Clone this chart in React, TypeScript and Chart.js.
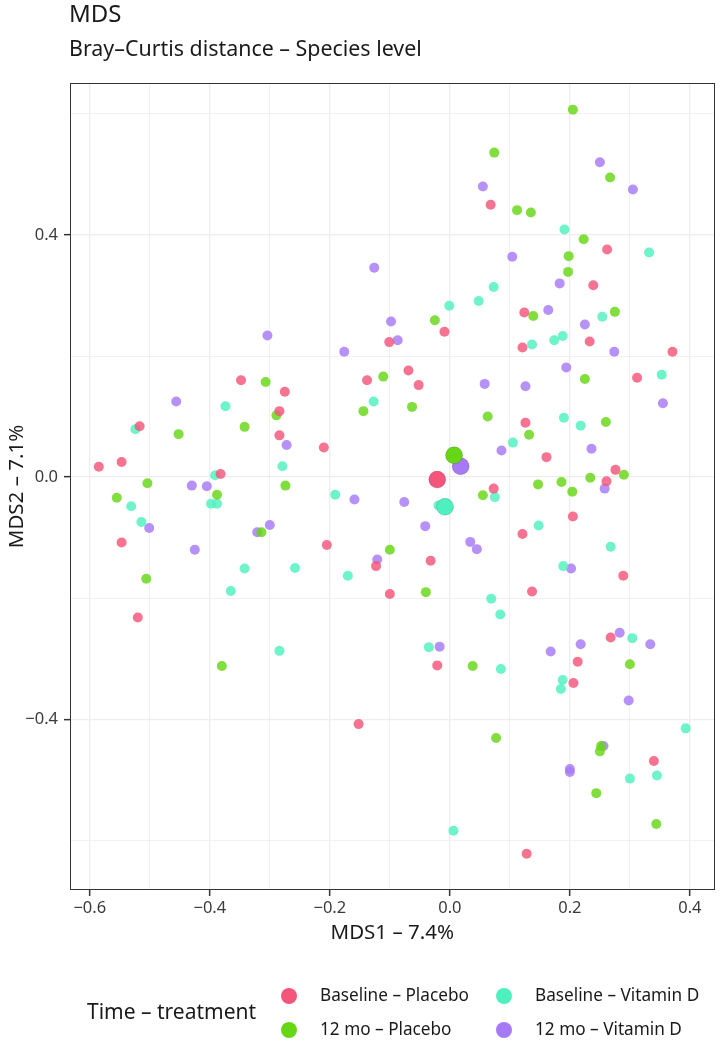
import React, { useEffect, useRef } from 'react';
import { Chart, registerables } from 'chart.js';

Chart.register(...registerables);

const FONT = '"Noto Sans"';

const TITLE = 'MDS';
const SUBTITLE = 'Bray–Curtis distance – Species level';
const X_TITLE = 'MDS1 – 7.4%';
const Y_TITLE = 'MDS2 – 7.1%';
const LEGEND_TITLE = 'Time – treatment';

const groups = ['Baseline – Placebo', '12 mo – Placebo', 'Baseline – Vitamin D', '12 mo – Vitamin D'];
const colors = ['#F4557A', '#66D714', '#4FF0BF', '#A679F5'];

const basePlaceboX = [0.068, -0.009, -0.101, 0.262, 0.239, 0.124, 0.121, 0.233, 0.371, -0.348, -0.275, -0.284, -0.517, -0.284, -0.547, -0.585, -0.382, -0.547, -0.52, -0.138, -0.069, -0.052, -0.21, 0.073, -0.205, -0.123, -0.032, -0.1, 0.312, 0.126, 0.161, 0.276, 0.261, 0.205, 0.121, 0.289, 0.137, -0.021, -0.152, 0.268, 0.213, 0.206, 0.34, 0.128];
const basePlaceboY = [0.45, 0.24, 0.223, 0.376, 0.317, 0.272, 0.214, 0.224, 0.207, 0.16, 0.141, 0.109, 0.084, 0.069, 0.025, 0.017, 0.005, -0.108, -0.232, 0.16, 0.176, 0.152, 0.049, -0.019, -0.112, -0.147, -0.138, -0.193, 0.164, 0.09, 0.033, 0.012, -0.007, -0.065, -0.094, -0.163, -0.189, -0.311, -0.408, -0.265, -0.305, -0.34, -0.469, -0.622];

const mo12PlaceboX = [0.074, 0.205, 0.267, 0.112, 0.135, 0.223, 0.198, 0.197, -0.025, 0.139, 0.275, -0.307, -0.289, -0.452, -0.342, -0.504, -0.274, -0.555, -0.388, -0.314, -0.506, -0.38, -0.111, -0.144, -0.063, 0.063, 0.055, -0.1, -0.04, 0.225, 0.132, 0.26, 0.29, 0.234, 0.147, 0.186, 0.204, 0.038, 0.077, 0.3, 0.252, 0.25, 0.244, 0.344];
const mo12PlaceboY = [0.536, 0.607, 0.495, 0.441, 0.437, 0.393, 0.365, 0.339, 0.259, 0.266, 0.273, 0.157, 0.102, 0.071, 0.083, -0.01, -0.014, -0.034, -0.029, -0.091, -0.168, -0.312, 0.166, 0.109, 0.116, 0.1, -0.03, -0.12, -0.19, 0.162, 0.07, 0.091, 0.004, -0.001, -0.012, -0.008, -0.024, -0.312, -0.431, -0.309, -0.444, -0.453, -0.522, -0.573];

const baseVitDX = [-0.001, 0.048, 0.073, 0.191, 0.332, 0.254, 0.174, 0.188, 0.137, -0.374, -0.524, -0.279, -0.391, -0.398, -0.388, -0.531, -0.514, -0.342, -0.365, -0.284, -0.127, -0.191, -0.019, 0.075, -0.258, -0.17, 0.069, 0.084, 0.353, 0.19, 0.218, 0.105, 0.148, 0.268, 0.189, -0.035, 0.085, 0.006, 0.304, 0.188, 0.185, 0.393, 0.3, 0.345];
const baseVitDY = [0.283, 0.291, 0.314, 0.409, 0.371, 0.265, 0.226, 0.233, 0.219, 0.117, 0.079, 0.018, 0.003, -0.044, -0.044, -0.048, -0.074, -0.151, -0.188, -0.287, 0.125, -0.029, -0.047, -0.033, -0.15, -0.163, -0.201, -0.227, 0.169, 0.098, 0.085, 0.057, -0.08, -0.115, -0.147, -0.281, -0.317, -0.584, -0.266, -0.335, -0.35, -0.415, -0.498, -0.493];

const mo12VitDX = [0.055, 0.25, 0.305, 0.104, 0.183, 0.164, 0.225, 0.274, -0.126, -0.098, -0.087, -0.176, -0.304, -0.456, -0.272, -0.43, -0.405, -0.501, -0.3, -0.321, -0.425, 0.058, 0.086, -0.159, -0.076, -0.041, 0.034, 0.045, -0.121, 0.194, 0.126, 0.355, 0.236, 0.258, 0.202, -0.017, 0.168, 0.218, 0.283, 0.334, 0.298, 0.256, 0.2, 0.2];
const mo12VitDY = [0.48, 0.52, 0.475, 0.364, 0.32, 0.276, 0.252, 0.207, 0.346, 0.257, 0.226, 0.207, 0.234, 0.125, 0.053, -0.014, -0.015, -0.084, -0.079, -0.091, -0.12, 0.154, 0.044, -0.037, -0.041, -0.081, -0.107, -0.119, -0.136, 0.181, 0.15, 0.122, 0.047, -0.019, -0.151, -0.28, -0.288, -0.276, -0.257, -0.276, -0.369, -0.444, -0.482, -0.487];

// group centroids (same order as groups)
const centroidX = [-0.021, 0.007, -0.008, 0.018];
const centroidY = [-0.004, 0.036, -0.049, 0.018];

const seriesX = [basePlaceboX, mo12PlaceboX, baseVitDX, mo12VitDX];
const seriesY = [basePlaceboY, mo12PlaceboY, baseVitDY, mo12VitDY];

const X_MIN = -0.633;
const X_MAX = 0.441;
const Y_MIN = -0.682;
const Y_MAX = 0.651;

function withAlpha(hex: string, a: number) {
  const n = parseInt(hex.slice(1), 16);
  return `rgba(${(n >> 16) & 255},${(n >> 8) & 255},${n & 255},${a})`;
}

function fmt(v: number) {
  const s = Math.abs(v).toFixed(1);
  return v < -1e-9 ? '\u2212' + s : s;
}

const TEXT = '#1a1a1a';
const AXIS_TEXT = '#3a3a3a';

const overlayPlugin = {
  id: 'overlay',
  afterDraw(chart: any) {
    const ctx = chart.ctx as CanvasRenderingContext2D;
    const { left, top, right, bottom } = chart.chartArea;
    ctx.save();
    ctx.strokeStyle = '#333333';
    ctx.lineWidth = 1;
    ctx.strokeRect(Math.round(left) + 0.5, Math.round(top) + 0.5, Math.round(right - left) - 1, Math.round(bottom - top) - 1);

    ctx.fillStyle = TEXT;
    ctx.textAlign = 'left';
    ctx.textBaseline = 'alphabetic';
    ctx.font = `24px ${FONT}`;
    ctx.fillText(TITLE, 69, 22);
    ctx.font = `21.4px ${FONT}`;
    ctx.fillText(SUBTITLE, 69, 56);

    // legend
    ctx.font = `21px ${FONT}`;
    ctx.textBaseline = 'middle';
    ctx.fillText(LEGEND_TITLE, 87, 1013);
    ctx.font = `17.2px ${FONT}`;
    groups.forEach((g, i) => {
      const col = Math.floor(i / 2);
      const row = i % 2;
      const cx = 289 + col * 215;
      const cy = 996 + row * 34;
      ctx.beginPath();
      ctx.arc(cx, cy, 8, 0, Math.PI * 2);
      ctx.fillStyle = colors[i];
      ctx.fill();
      ctx.fillStyle = TEXT;
      ctx.fillText(g, cx + 31, cy);
    });
    ctx.restore();
  },
};

export default function App() {
  const ref = useRef<HTMLCanvasElement>(null);

  useEffect(() => {
    const datasets: any[] = groups.map((g, i) => ({
      label: g,
      data: seriesX[i].map((x, k) => ({ x, y: seriesY[i][k] })),
      backgroundColor: withAlpha(colors[i], 0.82),
      borderWidth: 0,
      pointRadius: 5,
      pointHoverRadius: 5,
    }));
    groups.forEach((g, i) => {
      datasets.push({
        label: g + ' centroid',
        data: [{ x: centroidX[i], y: centroidY[i] }],
        backgroundColor: colors[i],
        borderColor: withAlpha('#000000', 0.15),
        borderWidth: 1,
        pointRadius: 8.5,
        order: -1,
      });
    });

    const chart = new Chart(ref.current!, {
      type: 'scatter',
      data: { datasets },
      plugins: [overlayPlugin],
      options: {
        animation: false,
        responsive: true,
        maintainAspectRatio: false,
        layout: { padding: { top: 83, right: 4, left: 0, bottom: 98 } },
        plugins: { legend: { display: false }, tooltip: { enabled: false }, title: { display: false } },
        scales: {
          x: {
            type: 'linear',
            min: X_MIN,
            max: X_MAX,
            afterFit: (s: any) => { s.height = 55; },
            ticks: {
              stepSize: 0.1,
              includeBounds: false,
              autoSkip: false,
              maxRotation: 0,
              padding: 2,
              color: AXIS_TEXT,
              font: { family: FONT, size: 16.5 },
              callback: (v: any) => (Math.abs(Math.round(Number(v) * 10)) % 2 === 0 ? fmt(Number(v)) : ''),
            },
            grid: {
              color: '#EDEDED',
              lineWidth: (c: any) => (Math.abs(Math.round(c.tick.value * 10)) % 2 === 0 ? 1.3 : 0.8),
              tickLength: 6,
              tickColor: (c: any) => (Math.abs(Math.round(c.tick.value * 10)) % 2 === 0 ? '#333333' : 'rgba(0,0,0,0)'),
              tickWidth: 1.5,
            },
            border: { display: false },
            title: {
              display: true,
              text: X_TITLE,
              color: TEXT,
              font: { family: FONT, size: 20.5 },
              padding: { top: 0, bottom: 0 },
            },
          },
          y: {
            type: 'linear',
            min: Y_MIN,
            max: Y_MAX,
            afterFit: (s: any) => { s.width = 70; },
            ticks: {
              stepSize: 0.2,
              includeBounds: false,
              autoSkip: false,
              padding: 6,
              color: AXIS_TEXT,
              font: { family: FONT, size: 16.5 },
              callback: (v: any) => (Math.abs(Math.round(Number(v) * 5)) % 2 === 0 ? fmt(Number(v)) : ''),
            },
            grid: {
              color: '#EDEDED',
              lineWidth: (c: any) => (Math.abs(Math.round(c.tick.value * 5)) % 2 === 0 ? 1.3 : 0.8),
              tickLength: 6,
              tickColor: (c: any) => (Math.abs(Math.round(c.tick.value * 5)) % 2 === 0 ? '#333333' : 'rgba(0,0,0,0)'),
              tickWidth: 1.5,
            },
            border: { display: false },
            title: {
              display: true,
              text: Y_TITLE,
              color: TEXT,
              font: { family: FONT, size: 20.5 },
              padding: { top: 5, bottom: 0 },
            },
          },
        },
      },
    });
    return () => chart.destroy();
  }, []);

  return (
    <div style={{ position: 'fixed', left: 0, top: 0, width: 724, height: 1043, background: '#ffffff' }}>
      <canvas ref={ref} />
    </div>
  );
}
